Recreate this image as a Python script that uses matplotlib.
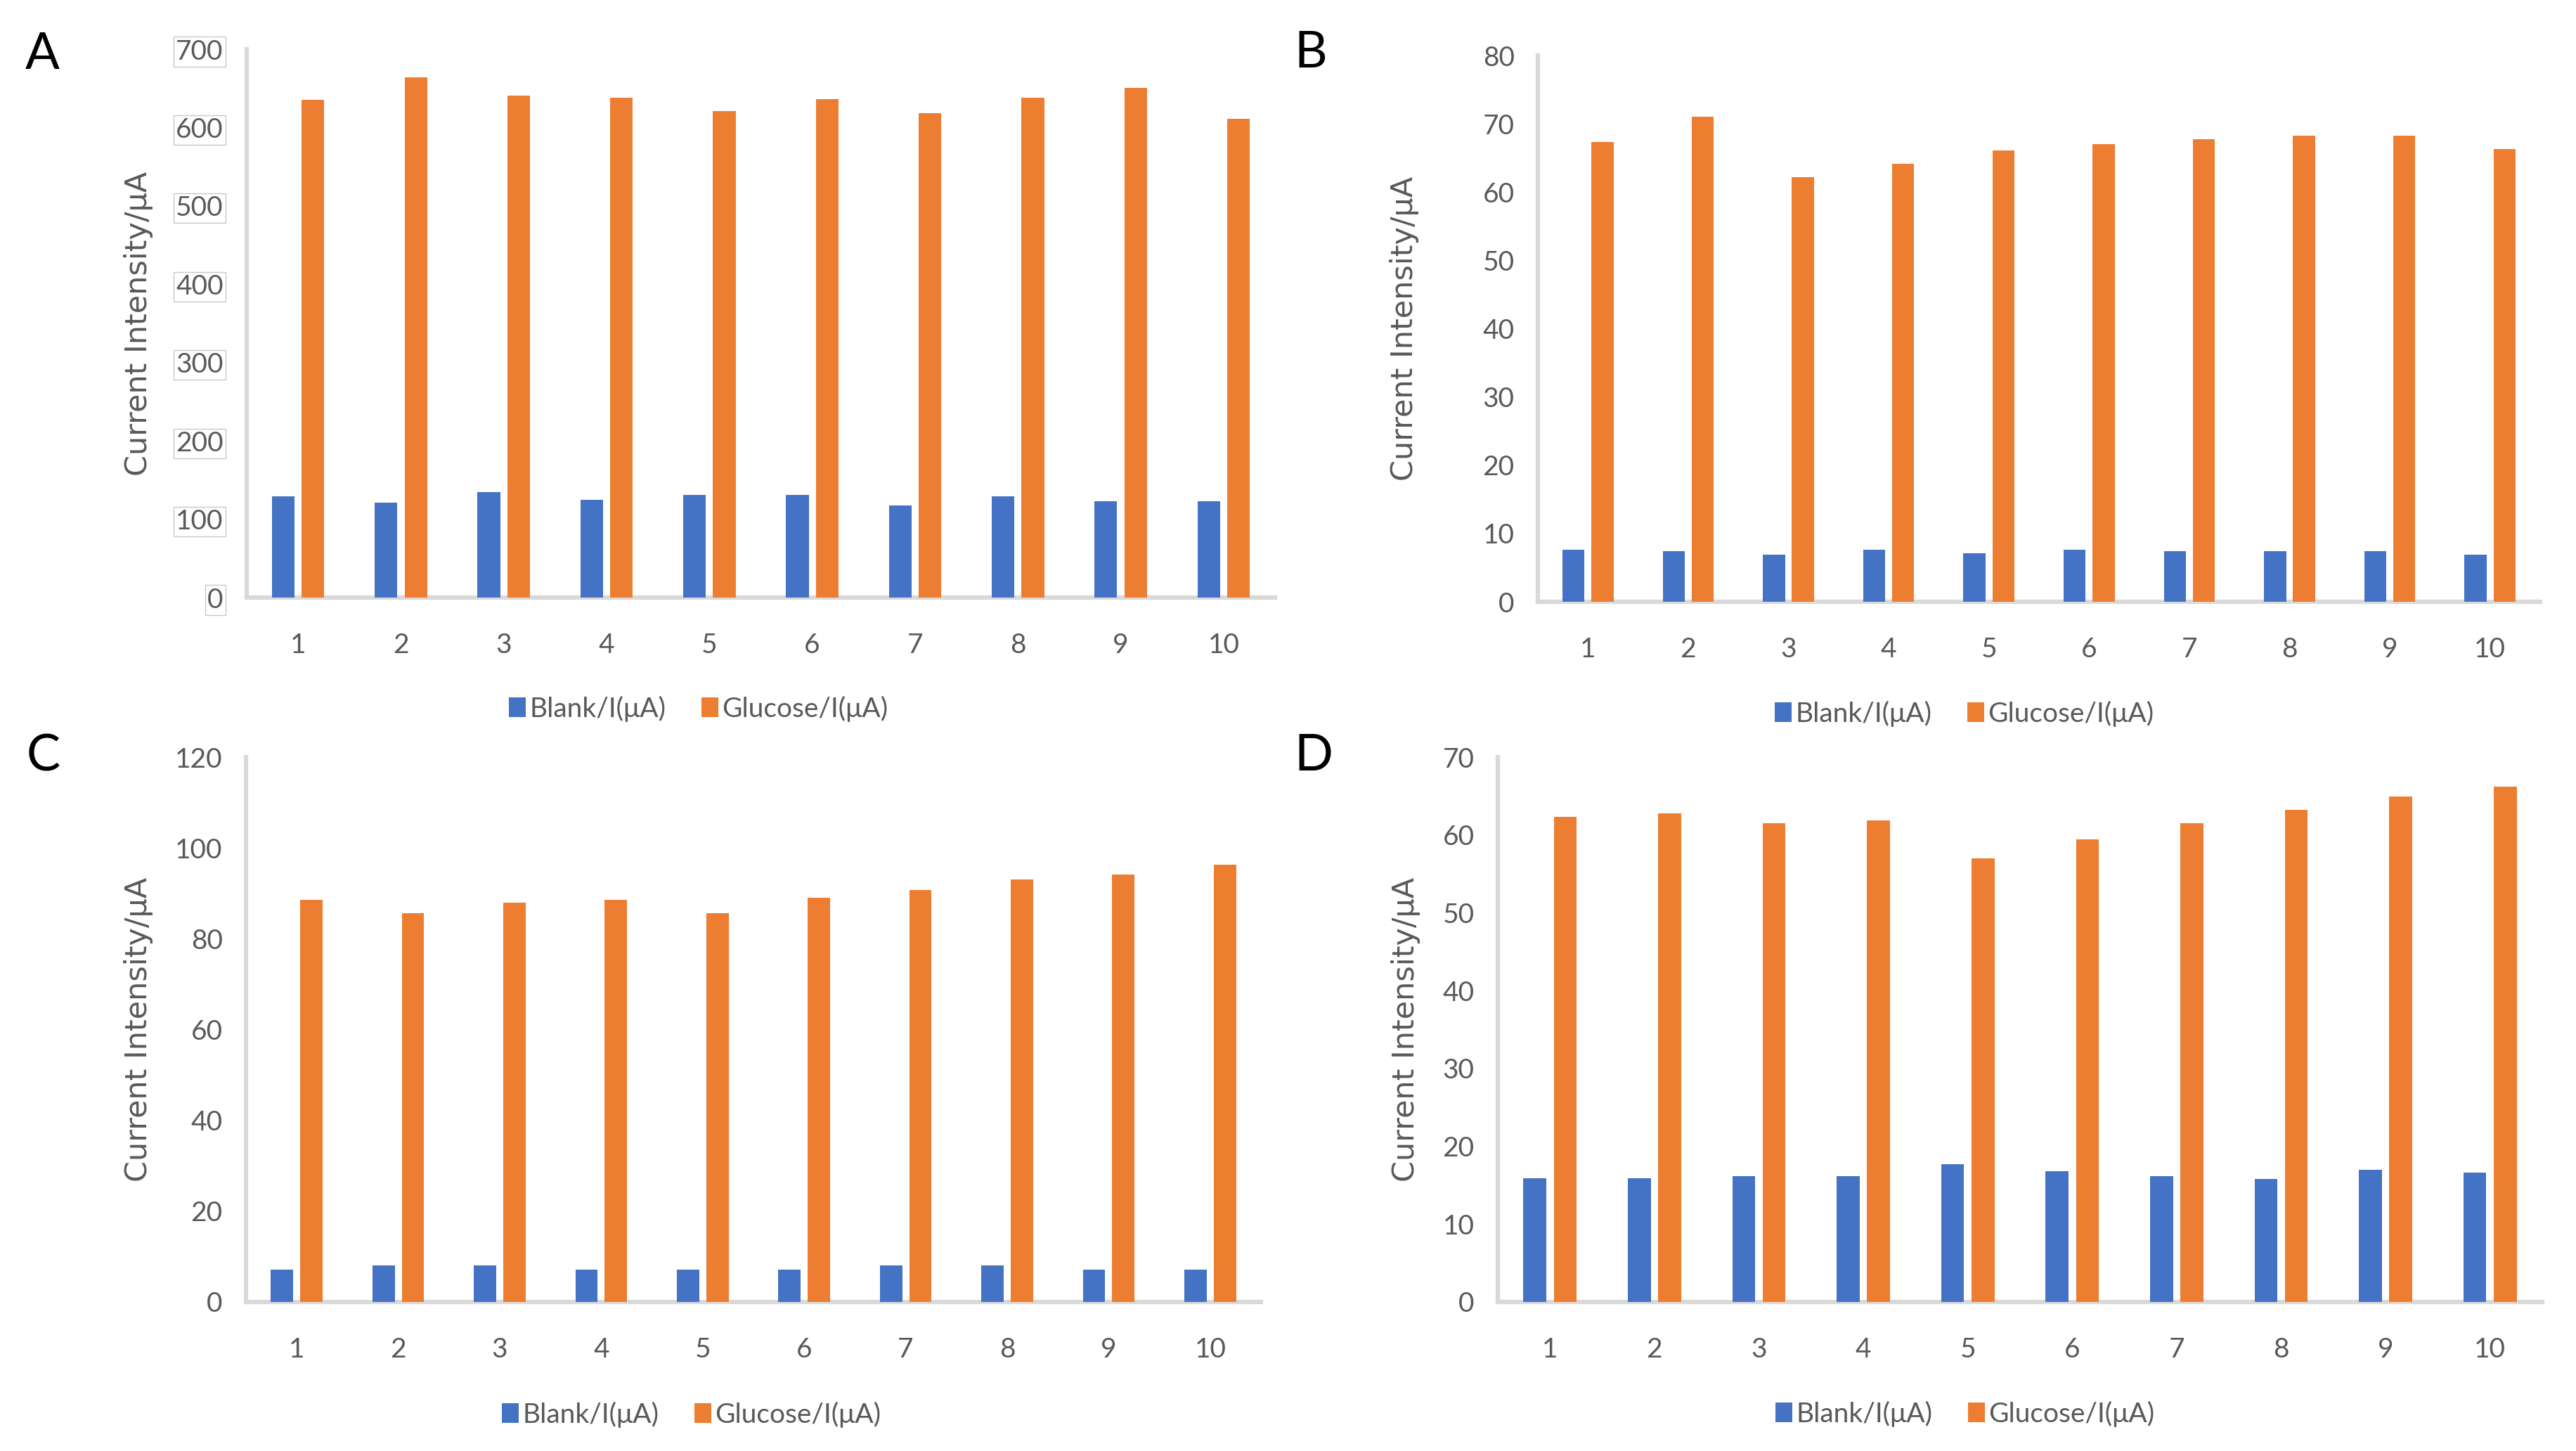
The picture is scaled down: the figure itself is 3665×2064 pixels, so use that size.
import numpy as np
import matplotlib
matplotlib.use("Agg")
import matplotlib.pyplot as plt

# ---------------- data ----------------
categories = ["1", "2", "3", "4", "5", "6", "7", "8", "9", "10"]
series_names = ["Blank/I(μA)", "Glucose/I(μA)"]

blank_A = [129, 121, 135, 125, 131, 131, 118, 129, 123, 123]
glucose_A = [635, 664, 641, 638, 621, 636, 618, 638, 651, 611]

blank_B = [7.6, 7.4, 6.9, 7.6, 7.1, 7.6, 7.4, 7.4, 7.4, 6.9]
glucose_B = [67.3, 71.0, 62.2, 64.1, 66.1, 67.0, 67.7, 68.3, 68.3, 66.3]

blank_C = [7.2, 8.0, 8.0, 7.2, 7.2, 7.2, 8.0, 8.0, 7.2, 7.2]
glucose_C = [88.6, 85.7, 87.9, 88.6, 85.7, 89.0, 90.8, 93.0, 94.1, 96.3]

blank_D = [15.9, 15.9, 16.2, 16.2, 17.7, 16.8, 16.2, 15.8, 17.0, 16.6]
glucose_D = [62.3, 62.8, 61.5, 61.9, 57.0, 59.4, 61.5, 63.2, 64.9, 66.2]

yticks_A = [0, 100, 200, 300, 400, 500, 600, 700]
yticks_B = [0, 10, 20, 30, 40, 50, 60, 70, 80]
yticks_C = [0, 20, 40, 60, 80, 100, 120]
yticks_D = [0, 10, 20, 30, 40, 50, 60, 70]

panel_letters = ["A", "B", "C", "D"]
ylabel_text = "Current Intensity/μA"

# ---------------- style ----------------
BLUE = "#4472C4"
ORANGE = "#ED7D31"
GREY_TXT = "#595959"
AXIS_GREY = "#d9d9d9"
TICK_FONT = ["Lato", "DejaVu Sans"]
LABEL_FONT = ["DejaVu Sans"]

W, H = 3666, 2064
DPI = 100
fig = plt.figure(figsize=(W / DPI, H / DPI), dpi=DPI)
fig.patch.set_facecolor("white")


def px_axes(left, right, top, bottom):
    return [left / W, 1 - bottom / H, (right - left) / W, (bottom - top) / H]


panels = [
    dict(rect=px_axes(351, 1814, 70, 850), blank=blank_A, glucose=glucose_A,
         yticks=yticks_A, boxed=True, letter_xy=(60, 77), ylabel_x=197,
         legend_xy=(994, 1008)),
    dict(rect=px_axes(2188, 3614, 79, 856), blank=blank_B, glucose=glucose_B,
         yticks=yticks_B, boxed=False, letter_xy=(1865, 76), ylabel_x=1998,
         legend_xy=(2795, 1015)),
    dict(rect=px_axes(350, 1794, 1077, 1852), blank=blank_C, glucose=glucose_C,
         yticks=yticks_C, boxed=False, letter_xy=(62, 1076), ylabel_x=197,
         legend_xy=(984, 2012)),
    dict(rect=px_axes(2131, 3617, 1077, 1852), blank=blank_D, glucose=glucose_D,
         yticks=yticks_D, boxed=False, letter_xy=(1869, 1076), ylabel_x=2000,
         legend_xy=(2796, 2011)),
]

x = np.arange(1, len(categories) + 1)
bw = 0.22
off = 0.145

for letter, p in zip(panel_letters, panels):
    ax = fig.add_axes(p["rect"])
    ax.bar(x - off, p["blank"], width=bw, color=BLUE, label=series_names[0],
           zorder=3)
    ax.bar(x + off, p["glucose"], width=bw, color=ORANGE, label=series_names[1],
           zorder=3)
    ax.set_xlim(0.5, len(categories) + 0.5)
    ax.set_ylim(0, p["yticks"][-1])
    ax.set_yticks(p["yticks"])
    ax.set_yticklabels([str(t) for t in p["yticks"]])
    ax.set_xticks(x)
    ax.set_xticklabels(categories)

    for s in ["top", "right"]:
        ax.spines[s].set_visible(False)
    for s in ["left", "bottom"]:
        ax.spines[s].set_color(AXIS_GREY)
        ax.spines[s].set_linewidth(4.5)
        ax.spines[s].set_capstyle("projecting")

    ax.tick_params(axis="both", length=0, labelsize=28, labelcolor=GREY_TXT)
    ax.tick_params(axis="y", pad=24)
    ax.tick_params(axis="x", pad=36)
    for lab in ax.get_xticklabels() + ax.get_yticklabels():
        lab.set_family(TICK_FONT)
    if p["boxed"]:
        for lab in ax.get_yticklabels():
            lab.set_bbox(dict(boxstyle="square,pad=0.08", facecolor="none",
                              edgecolor="#c8c8c8", linewidth=1.0))

    # y label
    ax.set_ylabel(ylabel_text, fontsize=31, color=GREY_TXT, family=LABEL_FONT)
    left_px = p["rect"][0] * W
    width_px = p["rect"][2] * W
    ax.yaxis.set_label_coords((p["ylabel_x"] - left_px) / width_px, 0.5)
    ax.yaxis.label.set_verticalalignment("center")

    # legend
    lx, ly = p["legend_xy"]
    ax.legend(loc="center", bbox_to_anchor=(lx / W, 1 - ly / H),
              bbox_transform=fig.transFigure, ncol=2, frameon=False,
              prop=dict(family=TICK_FONT, size=28), labelcolor=GREY_TXT,
              handlelength=0.6, handleheight=0.75, handletextpad=0.15,
              columnspacing=1.3, borderaxespad=0, borderpad=0)

    # panel letter
    fx, fy = p["letter_xy"]
    fig.text(fx / W, 1 - fy / H, letter, fontsize=52, color="black",
             family=TICK_FONT, ha="center", va="center")

fig.savefig("out.png", dpi=DPI, facecolor="white")
